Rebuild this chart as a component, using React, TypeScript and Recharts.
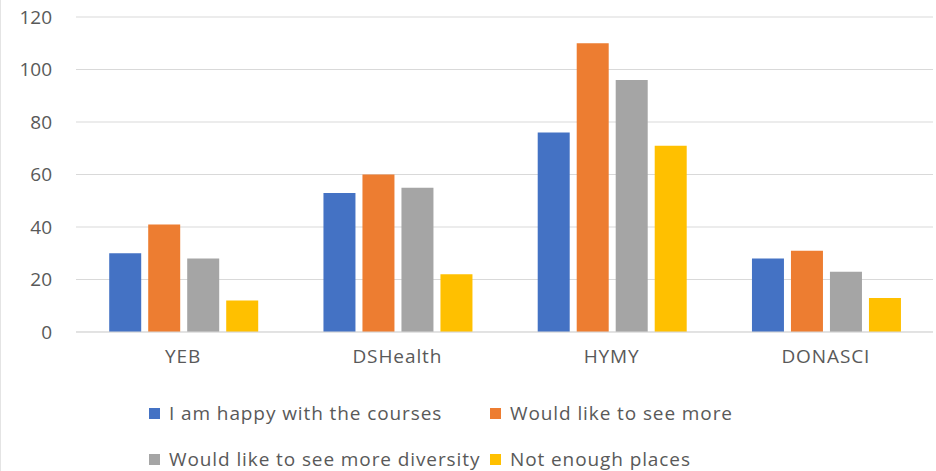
import React from 'react';
import { BarChart, Bar, XAxis, YAxis, CartesianGrid, Legend } from 'recharts';

const categories = ['YEB', 'DSHealth', 'HYMY', 'DONASCI'];
const happy = [30, 53, 76, 28];
const seeMore = [41, 60, 110, 31];
const diversity = [28, 55, 96, 23];
const notEnough = [12, 22, 71, 13];
const yTicks = [0, 20, 40, 60, 80, 100, 120];

const series = [
  { key: 'happy', name: 'I am happy with the courses', color: '#4472C4' },
  { key: 'seeMore', name: 'Would like to see more', color: '#ED7D31' },
  { key: 'diversity', name: 'Would like to see more diversity', color: '#A5A5A5' },
  { key: 'notEnough', name: 'Not enough places', color: '#FFC000' },
];

const data = categories.map((c, i) => ({
  name: c,
  happy: happy[i],
  seeMore: seeMore[i],
  diversity: diversity[i],
  notEnough: notEnough[i],
}));

const FONT = '"Open Sans", sans-serif';
const TEXT = '#595959';

const LegendBox = () => (
  <div style={{ position: 'relative', width: 936, height: 100, fontFamily: FONT, fontSize: 19, letterSpacing: 0.9, color: TEXT }}>
    {series.map((s, i) => (
      <div
        key={s.key}
        style={{
          position: 'absolute',
          left: i % 2 === 0 ? 148 : 489,
          top: i < 2 ? 0 : 46,
          display: 'flex',
          alignItems: 'center',
          whiteSpace: 'nowrap',
        }}
      >
        <span style={{ display: 'inline-block', width: 11, height: 11, background: s.color, marginRight: 9 }} />
        <span>{s.name}</span>
      </div>
    ))}
  </div>
);

export default function App() {
  return (
    <div style={{ position: 'absolute', left: 0, top: 0, width: 936, height: 471, background: '#fff', borderLeft: '1px solid #e4e4e4', boxSizing: 'border-box' }}>
      <BarChart
        width={935}
        height={471}
        data={data}
        margin={{ top: 17, right: 3, left: 0, bottom: 9 }}
        barGap={7}
        barCategoryGap="15.5%"
      >
        <CartesianGrid vertical={false} stroke="#d9d9d9" />
        <XAxis
          dataKey="name"
          axisLine={{ stroke: '#d9d9d9' }}
          tickLine={false}
          tickSize={0}
          tickMargin={18}
          tick={{ fontSize: 19, fill: TEXT, fontFamily: FONT, letterSpacing: 0.9 }}
        />
        <YAxis
          domain={[0, 120]}
          ticks={yTicks}
          width={75}
          axisLine={false}
          tickLine={false}
          tickSize={0}
          tickMargin={24}
          tick={{ fontSize: 19, fill: TEXT, fontFamily: FONT }}
        />
        <Legend
          verticalAlign="bottom"
          content={<LegendBox />}
          wrapperStyle={{ position: 'absolute', left: 0, top: 400, width: 936, height: 100 }}
        />
        {series.map((s) => (
          <Bar key={s.key} dataKey={s.key} name={s.name} fill={s.color} isAnimationActive={false} />
        ))}
      </BarChart>
    </div>
  );
}
